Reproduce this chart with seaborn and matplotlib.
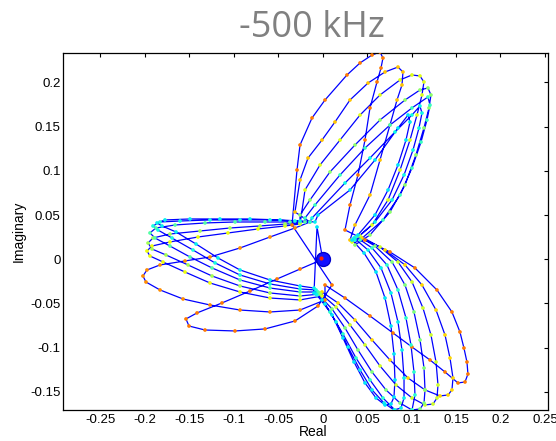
import matplotlib
matplotlib.use("Agg")
import matplotlib.pyplot as plt
import seaborn as sns
import pandas as pd

# ---- trajectory samples (Real, Imaginary), one list per loop, in time order ----
L0 = [(0.0, 0.0), (-0.0255, -0.0110), (-0.0514, -0.0223), (-0.0818, -0.0359), (-0.1133, -0.0494),
      (-0.1414, -0.0607), (-0.1538, -0.0675), (-0.1504, -0.0755), (-0.1324, -0.0800), (-0.0987, -0.0811),
      (-0.0649, -0.0788), (-0.0312, -0.0698), (-0.0053, -0.0528), (0.0105, -0.0291)]
U1 = [(-0.0345, 0.0388), (-0.0289, 0.1010), (-0.0255, 0.1293), (-0.0120, 0.1599), (0.0026, 0.1802),
      (0.0273, 0.2085), (0.0420, 0.2221), (0.0555, 0.2311), (0.0645, 0.2345), (0.0678, 0.2277),
      (0.0656, 0.2164), (0.0611, 0.2006), (0.0532, 0.1712), (0.0476, 0.1350), (0.0397, 0.0954),
      (0.0307, 0.0614), (0.0251, 0.0332)]
R1 = [(0.0476, 0.0218), (0.0757, 0.0083), (0.1038, -0.0098), (0.1285, -0.0347), (0.1454, -0.0596),
      (0.1544, -0.0822), (0.1589, -0.1004), (0.1623, -0.1162), (0.1634, -0.1298), (0.1601, -0.1388),
      (0.1522, -0.1399), (0.1376, -0.1275), (0.1207, -0.1139), (0.1004, -0.0992), (0.0791, -0.0834),
      (0.0532, -0.0641), (0.0251, -0.0438), (0.0026, -0.0291)]
L1 = [(0.0026, -0.0460), (-0.0255, -0.0574), (-0.0593, -0.0596), (-0.0930, -0.0574), (-0.1268, -0.0517),
      (-0.1571, -0.0449), (-0.1830, -0.0347), (-0.1988, -0.0257), (-0.2022, -0.0189), (-0.1977, -0.0121),
      (-0.1830, -0.0064), (-0.1549, -0.0019), (-0.1268, 0.0026), (-0.0930, 0.0128), (-0.0593, 0.0252),
      (-0.0312, 0.0354), (-0.0143, 0.0422)]
U2 = [(-0.0312, 0.0535), (-0.0255, 0.0897), (-0.0165, 0.1146), (-0.0008, 0.1349), (0.0138, 0.1553),
      (0.0307, 0.1802), (0.0510, 0.1994), (0.0701, 0.2119), (0.0847, 0.2175), (0.0903, 0.2119),
      (0.0892, 0.1972), (0.0836, 0.1802), (0.0757, 0.1519), (0.0645, 0.1123), (0.0532, 0.0727),
      (0.0363, 0.0388), (0.0307, 0.0218)]
R2 = [(0.0442, 0.0241), (0.0701, 0.0105), (0.0926, -0.0064), (0.1117, -0.0291), (0.1275, -0.0574),
      (0.1376, -0.0856), (0.1432, -0.1117), (0.1466, -0.1343), (0.1454, -0.1478), (0.1410, -0.1535),
      (0.1320, -0.1546), (0.1151, -0.1478), (0.0960, -0.1343), (0.0757, -0.1139), (0.0555, -0.0913),
      (0.0363, -0.0687), (0.0172, -0.0494), (-0.0008, -0.0370)]
L2 = [(-0.0008, -0.0415), (-0.0255, -0.0460), (-0.0593, -0.0438), (-0.0930, -0.0370), (-0.1268, -0.0268),
      (-0.1549, -0.0144), (-0.1796, -0.0031), (-0.1943, 0.0037), (-0.1977, 0.0094), (-0.1921, 0.0150),
      (-0.1718, 0.0196), (-0.1403, 0.0252), (-0.1066, 0.0298), (-0.0728, 0.0343), (-0.0424, 0.0377),
      (-0.0255, 0.0399)]
U3 = [(-0.0199, 0.0784), (-0.0030, 0.1067), (0.0195, 0.1349), (0.0420, 0.1632), (0.0645, 0.1859),
      (0.0870, 0.2029), (0.1004, 0.2085), (0.1094, 0.2074), (0.1139, 0.2006), (0.1117, 0.1859),
      (0.1061, 0.1633), (0.0982, 0.1349), (0.0870, 0.1010), (0.0735, 0.0671), (0.0555, 0.0388),
      (0.0330, 0.0196)]
R3 = [(0.0420, 0.0264), (0.0645, 0.0139), (0.0847, -0.0031), (0.1005, -0.0257), (0.1128, -0.0551),
      (0.1218, -0.0856), (0.1275, -0.1162), (0.1297, -0.1422), (0.1286, -0.1569), (0.1241, -0.1637),
      (0.1151, -0.1648), (0.1005, -0.1569), (0.0825, -0.1422), (0.0645, -0.1207), (0.0476, -0.0969),
      (0.0307, -0.0743), (0.0150, -0.0540), (-0.0030, -0.0381)]
L3 = [(-0.0030, -0.0393), (-0.0255, -0.0415), (-0.0593, -0.0381), (-0.0930, -0.0302), (-0.1245, -0.0189),
      (-0.1515, -0.0064), (-0.1763, 0.0049), (-0.1920, 0.0116), (-0.1965, 0.0184), (-0.1909, 0.0241),
      (-0.1718, 0.0286), (-0.1380, 0.0320), (-0.1043, 0.0354), (-0.0705, 0.0377), (-0.0424, 0.0399),
      (-0.0255, 0.0411)]
U4 = [(-0.0255, 0.0501), (-0.0143, 0.0671), (0.0082, 0.0988), (0.0363, 0.1293), (0.0645, 0.1576),
      (0.0926, 0.1802), (0.1094, 0.1915), (0.1184, 0.1938), (0.1218, 0.1859), (0.1196, 0.1712),
      (0.1139, 0.1486), (0.1049, 0.1180), (0.0926, 0.0840), (0.0757, 0.0535), (0.0532, 0.0275),
      (0.0363, 0.0162)]
R4 = [(0.0397, 0.0264), (0.0588, 0.0150), (0.0780, -0.0031), (0.0926, -0.0291), (0.1027, -0.0596),
      (0.1095, -0.0913), (0.1140, -0.1230), (0.1151, -0.1478), (0.1140, -0.1626), (0.1095, -0.1693),
      (0.1005, -0.1705), (0.0870, -0.1626), (0.0712, -0.1478), (0.0555, -0.1275), (0.0397, -0.1026),
      (0.0251, -0.0777), (0.0105, -0.0562), (-0.0053, -0.0393)]
L4 = [(-0.0053, -0.0370), (-0.0255, -0.0370), (-0.0593, -0.0325), (-0.0930, -0.0234), (-0.1245, -0.0098),
      (-0.1493, 0.0026), (-0.1718, 0.0150), (-0.1887, 0.0241), (-0.1943, 0.0298), (-0.1876, 0.0354),
      (-0.1661, 0.0388), (-0.1324, 0.0411), (-0.0986, 0.0422), (-0.0649, 0.0422), (-0.0368, 0.0422),
      (-0.0199, 0.0422)]
U5 = [(-0.0199, 0.0467), (-0.0087, 0.0614), (0.0195, 0.0954), (0.0476, 0.1259), (0.0757, 0.1519),
      (0.1004, 0.1712), (0.1184, 0.1836), (0.1207, 0.1744), (0.1173, 0.1575), (0.1106, 0.1326),
      (0.1004, 0.1032), (0.0870, 0.0727), (0.0678, 0.0445), (0.0420, 0.0218)]
R5 = [(0.0375, 0.0252), (0.0555, 0.0128), (0.0723, -0.0064), (0.0847, -0.0347), (0.0937, -0.0664),
      (0.0993, -0.0969), (0.1027, -0.1275), (0.1038, -0.1535), (0.1005, -0.1705), (0.0926, -0.1750),
      (0.0813, -0.1705), (0.0678, -0.1569), (0.0532, -0.1365), (0.0375, -0.1117), (0.0228, -0.0845),
      (0.0082, -0.0596), (-0.0064, -0.0404)]
L5 = [(-0.0075, -0.0347), (-0.0255, -0.0336), (-0.0593, -0.0279), (-0.0930, -0.0178), (-0.1211, -0.0041),
      (-0.1459, 0.0105), (-0.1695, 0.0241), (-0.1853, 0.0331), (-0.1909, 0.0377), (-0.1830, 0.0422),
      (-0.1605, 0.0433), (-0.1268, 0.0445), (-0.0930, 0.0445), (-0.0593, 0.0445), (-0.0312, 0.0433),
      (-0.0143, 0.0422)]
U6 = [(-0.0120, 0.0467), (0.0251, 0.0863), (0.0532, 0.1146), (0.0813, 0.1440), (0.1004, 0.1632),
      (0.1094, 0.1734), (0.1117, 0.1654), (0.1083, 0.1484), (0.1016, 0.1236), (0.0915, 0.0954),
      (0.0780, 0.0671), (0.0588, 0.0422), (0.0363, 0.0218)]
R6 = [(0.0352, 0.0241), (0.0510, 0.0105), (0.0656, -0.0098), (0.0768, -0.0381), (0.0847, -0.0709),
      (0.0892, -0.1026), (0.0915, -0.1343), (0.0915, -0.1569), (0.0881, -0.1682), (0.0802, -0.1705),
      (0.0690, -0.1626), (0.0555, -0.1478), (0.0420, -0.1252), (0.0285, -0.0992), (0.0150, -0.0709),
      (0.0026, -0.0506), (-0.0075, -0.0393)]
L6 = [(-0.0098, -0.0325), (-0.0255, -0.0302), (-0.0593, -0.0234), (-0.0930, -0.0121), (-0.1178, 0.0015),
      (-0.1425, 0.0173), (-0.1650, 0.0309), (-0.1808, 0.0377), (-0.1864, 0.0411), (-0.1774, 0.0445),
      (-0.1493, 0.0456), (-0.1156, 0.0456), (-0.0818, 0.0456), (-0.0480, 0.0445), (-0.0255, 0.0433),
      (-0.0087, 0.0422)]
U7 = [(-0.0053, 0.0501), (0.0307, 0.0784), (0.0588, 0.1123), (0.0847, 0.1485), (0.0960, 0.1632),
      (0.0982, 0.1553), (0.0937, 0.1349), (0.0847, 0.1067), (0.0735, 0.0784), (0.0588, 0.0501),
      (0.0397, 0.0275)]
R7 = [(0.0330, 0.0218), (0.0465, 0.0071), (0.0600, -0.0144), (0.0701, -0.0438), (0.0768, -0.0755),
      (0.0802, -0.1071), (0.0813, -0.1365), (0.0802, -0.1558), (0.0768, -0.1637), (0.0701, -0.1648),
      (0.0600, -0.1569), (0.0476, -0.1399), (0.0352, -0.1162), (0.0228, -0.0890), (0.0105, -0.0630),
      (-0.0008, -0.0460), (-0.0098, -0.0381)]
END = [(-0.0064, 0.0365), (0.0, 0.0)]

loops = [L0, U1, R1, L1, U2, R2, L2, U3, R3, L3, U4, R4, L4, U5, R5, L5, U6, R6, L6, U7, R7, END]
# colour value (jet colormap) of the sample dots on each loop
loop_level = [0.78, 0.78, 0.78, 0.76, 0.70, 0.68, 0.64, 0.62, 0.60, 0.55, 0.52, 0.50,
              0.45, 0.42, 0.40, 0.38, 0.37, 0.36, 0.36, 0.35, 0.35, 0.35]

x_ticks = [-0.25, -0.2, -0.15, -0.1, -0.05, 0, 0.05, 0.1, 0.15, 0.2, 0.25]
x_tick_labels = ['-0.25', '-0.2', '-0.15', '-0.1', '-0.05', '0', '0.05', '0.1', '0.15', '0.2', '0.25']
y_ticks = [-0.15, -0.1, -0.05, 0, 0.05, 0.1, 0.15, 0.2]
y_tick_labels = ['-0.15', '-0.1', '-0.05', '0', '0.05', '0.1', '0.15', '0.2']

rows = []
for lvl, pts in zip(loop_level, loops):
    for (xv, yv) in pts:
        rows.append((xv, yv, lvl))
df = pd.DataFrame(rows, columns=["Real", "Imaginary", "level"])

sns.set_theme(style="white")
plt.rcParams['font.family'] = ['Liberation Sans', 'DejaVu Sans']

fig = plt.figure(figsize=(5.56, 4.41), dpi=100)
ax = fig.add_axes([63.3 / 556, 1 - 410 / 441, (547.5 - 63.3) / 556, (410 - 52.7) / 441])

sns.lineplot(data=df, x="Real", y="Imaginary", sort=False, estimator=None,
             color="#0000ff", lw=0.9, ax=ax, zorder=2)
sns.scatterplot(data=df, x="Real", y="Imaginary", hue="level", palette=matplotlib.colormaps["jet"],
                hue_norm=(0, 1), s=7, linewidth=0, legend=False, ax=ax, zorder=3)

ax.plot([0], [0], 'o', ms=10, color="#1010ff", mec="#0000cc", mew=1.0, zorder=4)
ax.plot([-0.002], [0.002], 'o', ms=3, color="#ff2000", mew=0, zorder=5)

ax.set_xlim(-0.2918, 0.2529)
ax.set_ylim(-0.1705, 0.2337)
ax.set_xticks(x_ticks)
ax.set_xticklabels(x_tick_labels)
ax.set_yticks(y_ticks)
ax.set_yticklabels(y_tick_labels)
ax.tick_params(direction='in', length=3.2, width=0.8, top=True, right=True,
               labelsize=9.5, colors='black', pad=3)
ax.tick_params(axis='y', pad=2)
for sp in ax.spines.values():
    sp.set_visible(True)
    sp.set_color('black')
    sp.set_linewidth(0.9)

ax.set_xlabel("Real", fontsize=10, color='black')
ax.xaxis.set_label_coords(0.516, -0.042)
ax.set_ylabel("Imaginary", fontsize=10, color='black', labelpad=3)

fig.text(0.561, 1 - 37 / 441, "-500 kHz", ha='center', va='baseline', fontsize=26,
         color='#808080', family=['Open Sans', 'DejaVu Sans'])

fig.savefig("out.png", dpi=100)
